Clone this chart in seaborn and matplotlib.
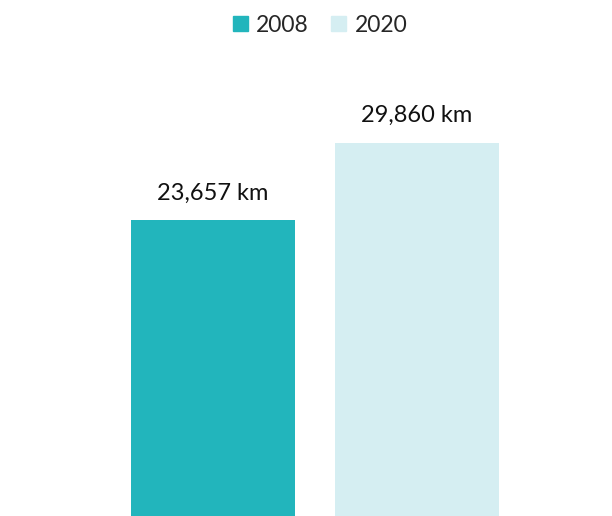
import matplotlib
matplotlib.use("Agg")
import matplotlib.pyplot as plt
import seaborn as sns
import pandas as pd

# data
years = ["2008", "2020"]
lengths = [23657, 29860]
colors = ["#22b5bc", "#d5eef2"]

df = pd.DataFrame({"year": years, "length": lengths})

sns.set_theme(style="white")
plt.rcParams["font.family"] = ["Lato", "DejaVu Sans"]

fig = plt.figure(figsize=(6.12, 5.16), dpi=100)
ax = fig.add_axes([111 / 612, 0, 408 / 612, 456 / 516])

sns.barplot(data=df, x="year", y="length", hue="year", palette=colors,
            width=0.804, saturation=1, legend=False, linewidth=0, ax=ax)

ax.set_xlim(-0.5, 1.5)
ax.set_ylim(0, 456 * 29860 / 373)

for i, v in enumerate(lengths):
    ax.annotate(f"{v:,} km", (i, v), xytext=(0, 12), textcoords="offset points",
                ha="center", va="bottom", fontsize=17, color="#111111")

ax.set_axis_off()

# legend
handles = [plt.Rectangle((0, 0), 1, 1, color=c) for c in colors]
fig.legend(handles, years, loc="center", bbox_to_anchor=(320 / 612, 1 - 25 / 516),
           ncol=2, frameon=False, fontsize=16.5, handlelength=0.65, handleheight=0.65,
           handletextpad=0.35, columnspacing=1.0)

plt.savefig("out.png", dpi=100)
